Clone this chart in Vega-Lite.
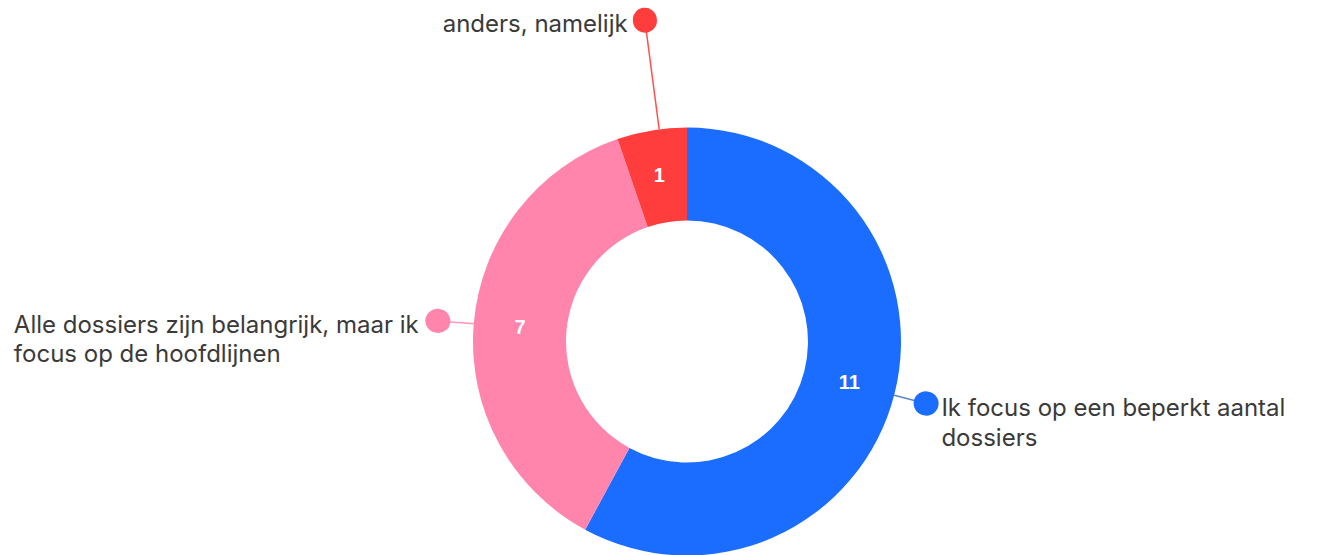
{
  "$schema": "https://vega.github.io/schema/vega-lite/v6.json",
  "width": 1272,
  "height": 427,
  "autosize": "none",
  "padding": {"left": 51, "top": 128, "right": 0, "bottom": 0},
  "background": "white",
  "config": {"view": {"stroke": null}},
  "data": {
    "values": [
      {"category": "Ik focus op een beperkt aantal\ndossiers", "count": 11},
      {"category": "Alle dossiers zijn belangrijk, maar ik\nfocus op de hoofdlijnen", "count": 7},
      {"category": "anders, namelijk", "count": 1}
    ]
  },
  "resolve": {"scale": {"theta": "independent"}},
  "encoding": {
    "theta": {"field": "count", "type": "quantitative", "stack": true},
    "order": {"field": "count", "type": "quantitative", "sort": "descending"},
    "detail": {"field": "category", "type": "nominal"}
  },
  "layer": [
    {
      "mark": {"type": "arc", "outerRadius": 214, "innerRadius": 121},
      "encoding": {
        "color": {
          "field": "category", "type": "nominal", "legend": null,
          "scale": {
            "domain": ["Ik focus op een beperkt aantal\ndossiers", "Alle dossiers zijn belangrijk, maar ik\nfocus op de hoofdlijnen", "anders, namelijk"],
            "range": ["#1a6dff", "#ff85ac", "#ff3d3d"]
          }
        }
      }
    },
    {
      "mark": {"type": "arc", "outerRadius": 240, "innerRadius": 214, "padAngle": 3, "filled": false, "strokeWidth": 1.5, "strokeJoin": "bevel"},
      "encoding": {
        "color": {"field": "category", "type": "nominal", "legend": null},
        "opacity": {"condition": {"test": "datum.count === 7", "value": 0.85}, "value": 0}
      }
    },
    {
      "mark": {"type": "arc", "outerRadius": 250.5, "innerRadius": 249.5, "padAngle": 3, "filled": false, "strokeWidth": 24, "strokeCap": "round", "strokeJoin": "round"},
      "encoding": {
        "color": {"field": "category", "type": "nominal", "legend": null},
        "opacity": {"condition": {"test": "datum.count === 7", "value": 1}, "value": 0}
      }
    },
    {
      "mark": {"type": "arc", "outerRadius": 236, "innerRadius": 214, "padAngle": 3, "thetaOffset": 0.915, "filled": false, "strokeWidth": 1.5, "strokeJoin": "bevel"},
      "encoding": {
        "theta": {"field": "count", "type": "quantitative", "stack": true, "scale": {"range": [0, 3.14159265]}},
        "color": {"field": "category", "type": "nominal", "legend": null},
        "stroke": {"value": "#4a78b8"},
        "opacity": {"condition": {"test": "datum.count === 11", "value": 0.9}, "value": 0}
      }
    },
    {
      "mark": {"type": "arc", "outerRadius": 247.5, "innerRadius": 246.5, "padAngle": 3, "thetaOffset": 0.915, "filled": false, "strokeWidth": 24, "strokeCap": "round", "strokeJoin": "round"},
      "encoding": {
        "theta": {"field": "count", "type": "quantitative", "stack": true, "scale": {"range": [0, 3.14159265]}},
        "color": {"field": "category", "type": "nominal", "legend": null},
        "opacity": {"condition": {"test": "datum.count === 11", "value": 1}, "value": 0}
      }
    },
    {
      "mark": {"type": "arc", "outerRadius": 312, "innerRadius": 214, "padAngle": 3, "filled": false, "strokeWidth": 1.5, "strokeJoin": "bevel", "thetaOffset": 0.035},
      "encoding": {
        "color": {"field": "category", "type": "nominal", "legend": null},
        "opacity": {"condition": {"test": "datum.count === 1", "value": 0.9}, "value": 0}
      }
    },
    {
      "mark": {"type": "arc", "outerRadius": 324.5, "innerRadius": 323.5, "padAngle": 3, "filled": false, "strokeWidth": 24, "strokeCap": "round", "strokeJoin": "round", "thetaOffset": 0.035},
      "encoding": {
        "color": {"field": "category", "type": "nominal", "legend": null},
        "opacity": {"condition": {"test": "datum.count === 1", "value": 1}, "value": 0}
      }
    },
    {
      "mark": {"type": "text", "radius": 167.5, "fill": "white", "font": "Liberation Sans", "fontSize": 20, "fontWeight": "bold", "baseline": "middle", "align": "center"},
      "encoding": {"text": {"field": "count", "type": "quantitative"}}
    },
    {
      "mark": {"type": "text", "radius": 248, "font": "Inter", "fontSize": 24, "fill": "#3a3a3a", "align": "left", "baseline": "alphabetic", "dx": 14, "dy": 14, "lineBreak": "\n", "lineHeight": 30},
      "encoding": {
        "text": {"field": "category", "type": "nominal"},
        "opacity": {"condition": {"test": "datum.count === 11", "value": 1}, "value": 0}
      }
    },
    {
      "mark": {"type": "text", "radius": 248, "font": "Inter", "fontSize": 24, "fill": "#3a3a3a", "align": "left", "baseline": "alphabetic", "dx": -426, "dy": 12, "lineBreak": "\n", "lineHeight": 29},
      "encoding": {
        "text": {"field": "category", "type": "nominal"},
        "opacity": {"condition": {"test": "datum.count === 7", "value": 1}, "value": 0}
      }
    },
    {
      "mark": {"type": "text", "radius": 324, "font": "Inter", "fontSize": 24, "fill": "#3a3a3a", "align": "right", "baseline": "alphabetic", "dx": -6, "dy": 10},
      "encoding": {
        "text": {"field": "category", "type": "nominal"},
        "opacity": {"condition": {"test": "datum.count === 1", "value": 1}, "value": 0}
      }
    }
  ]
}
